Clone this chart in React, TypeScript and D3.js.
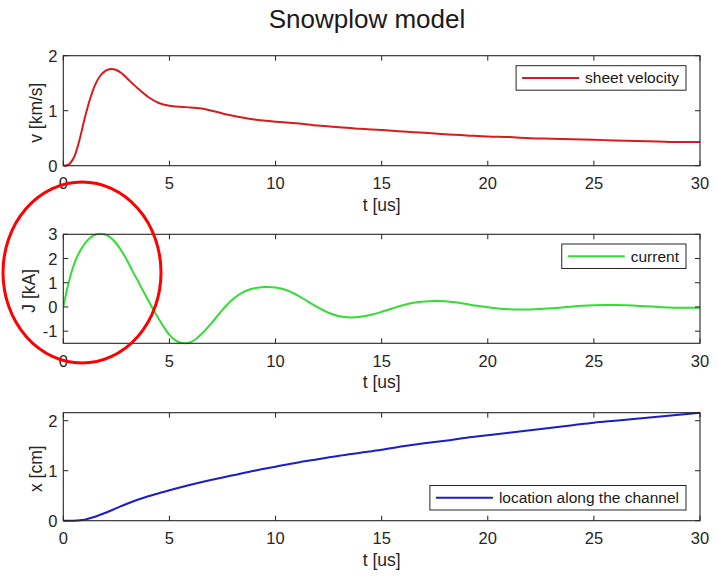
import React from "react";
import * as d3 from "d3";

const title = "Snowplow model";
const xLabel = "t [us]";
const xTicks = [0, 5, 10, 15, 20, 25, 30];

// sheet velocity [km/s]
const velT = [0, 0.25, 0.5, 0.75, 1.0, 1.25, 1.5, 1.75, 2.0, 2.25, 2.5, 2.75, 3.0, 3.5, 4.0, 4.5, 5.0, 5.5, 6.0, 6.5, 7.0, 7.5, 8.0, 8.5, 9.0, 10, 11, 12, 13, 14, 15, 16, 17, 18, 19, 20, 21, 22, 23, 24, 25, 26, 27, 28, 29, 30];
const velV = [0, 0.02, 0.15, 0.45, 0.85, 1.2, 1.47, 1.64, 1.73, 1.76, 1.74, 1.68, 1.59, 1.41, 1.25, 1.14, 1.09, 1.07, 1.06, 1.04, 1.0, 0.95, 0.91, 0.87, 0.84, 0.8, 0.77, 0.73, 0.7, 0.67, 0.65, 0.62, 0.6, 0.57, 0.55, 0.53, 0.52, 0.5, 0.49, 0.48, 0.47, 0.46, 0.45, 0.44, 0.43, 0.43];

// current [kA]
const curT = [0, 0.25, 0.5, 0.75, 1.0, 1.25, 1.5, 1.75, 2.0, 2.25, 2.5, 2.75, 3.0, 3.25, 3.5, 3.75, 4.0, 4.25, 4.5, 4.75, 5.0, 5.25, 5.5, 5.75, 6.0, 6.25, 6.5, 6.75, 7.0, 7.25, 7.5, 7.75, 8.0, 8.5, 9.0, 9.5, 10.0, 10.5, 11.0, 11.5, 12.0, 12.5, 13.0, 13.5, 14.0, 14.5, 15.0, 15.5, 16.0, 16.5, 17.0, 17.5, 18.0, 18.5, 19.0, 19.5, 20.0, 20.5, 21.0, 21.5, 22.0, 22.5, 23.0, 23.5, 24.0, 24.5, 25.0, 25.5, 26.0, 26.5, 27.0, 27.5, 28.0, 28.5, 29.0, 29.5, 30.0];
const curJ = [0, 1.0, 1.75, 2.25, 2.6, 2.85, 2.98, 3.02, 2.98, 2.85, 2.62, 2.3, 1.93, 1.5, 1.1, 0.68, 0.28, -0.12, -0.5, -0.85, -1.15, -1.36, -1.47, -1.5, -1.45, -1.32, -1.13, -0.9, -0.65, -0.38, -0.12, 0.12, 0.33, 0.62, 0.77, 0.82, 0.8, 0.7, 0.5, 0.24, -0.02, -0.24, -0.38, -0.43, -0.4, -0.32, -0.2, -0.06, 0.07, 0.17, 0.23, 0.25, 0.24, 0.19, 0.12, 0.05, -0.01, -0.06, -0.09, -0.1, -0.1, -0.08, -0.05, -0.02, 0.02, 0.05, 0.07, 0.08, 0.08, 0.07, 0.05, 0.03, 0.0, -0.02, -0.03, -0.03, -0.03];

// location along the channel [cm]
const posT = [0, 0.5, 1.0, 1.5, 2.0, 2.5, 3.0, 3.5, 4.0, 4.5, 5.0, 6, 7, 8, 9, 10, 11, 12, 13, 14, 15, 16, 17, 18, 19, 20, 21, 22, 23, 24, 25, 26, 27, 28, 29, 30];
const posX = [0, 0.0, 0.02, 0.08, 0.16, 0.25, 0.34, 0.42, 0.49, 0.55, 0.61, 0.72, 0.82, 0.91, 1.0, 1.08, 1.16, 1.23, 1.3, 1.36, 1.42, 1.49, 1.55, 1.6, 1.66, 1.71, 1.76, 1.81, 1.86, 1.91, 1.96, 2.0, 2.04, 2.08, 2.12, 2.16];

const yLabels = ["v [km/s]", "J [kA]", "x [cm]"];
const legendLabels = ["sheet velocity", "current", "location along the channel"];
const yTicksList = [[0, 1, 2], [-1, 0, 1, 2, 3], [0, 1, 2]];
const yDomains: [number, number][] = [[0, 2], [-1.5, 3], [0, 2.16]];

const FONT = "'Liberation Sans', Arial, Helvetica, sans-serif";
const AX = "#262626";

function measure(text: string, size: number): number {
  try {
    const c = document.createElement("canvas").getContext("2d");
    if (c) {
      c.font = `${size}px ${FONT}`;
      return c.measureText(text).width;
    }
  } catch (e) {}
  return text.length * size * 0.5;
}

type PanelProps = {
  top: number;
  bottom: number;
  t: number[];
  v: number[];
  domain: [number, number];
  ticks: number[];
  ylabel: string;
  ylabelX: number;
  legend: string;
  legendTop: number;
  color: string;
};

const X0 = 63.3;
const X1 = 700;

function Panel(p: PanelProps) {
  const x = d3.scaleLinear().domain([0, 30]).range([X0, X1]);
  const y = d3.scaleLinear().domain(p.domain).range([p.bottom, p.top]);
  const data = p.t.map((tt, i) => [tt, p.v[i]] as [number, number]);
  const line = d3
    .line<[number, number]>()
    .x((d) => x(d[0]))
    .y((d) => y(d[1]))
    .curve(d3.curveCatmullRom.alpha(0.5));
  const tl = 5;
  const fs = 16.5;
  const lfs = 17.5;
  const gfs = 15.5;
  const tw = measure(p.legend, gfs);
  const boxR = 686;
  const boxW = 6 + 57 + 6 + tw + 7;
  const boxL = boxR - boxW;
  const boxH = 24.5;
  return (
    <g>
      <rect x={X0} y={p.top} width={X1 - X0} height={p.bottom - p.top} fill="#fff" />
      <defs>
        <clipPath id={`clip${p.top}`}>
          <rect x={X0} y={p.top - 2} width={X1 - X0} height={p.bottom - p.top + 4} />
        </clipPath>
      </defs>
      <path d={line(data) || ""} fill="none" stroke={p.color} strokeWidth={2} clipPath={`url(#clip${p.top})`} />
      <rect x={X0} y={p.top} width={X1 - X0} height={p.bottom - p.top} fill="none" stroke={AX} strokeWidth={1.1} />
      {xTicks.map((tk) => (
        <g key={tk}>
          <line x1={x(tk)} x2={x(tk)} y1={p.bottom} y2={p.bottom - tl} stroke={AX} />
          <line x1={x(tk)} x2={x(tk)} y1={p.top} y2={p.top + tl} stroke={AX} />
          <text x={x(tk)} y={p.bottom + 17.5} textAnchor="middle" dominantBaseline="central" fontSize={fs} fill={AX} fontFamily={FONT}>
            {tk}
          </text>
        </g>
      ))}
      {p.ticks.map((tk) => (
        <g key={tk}>
          <line x1={X0} x2={X0 + tl} y1={y(tk)} y2={y(tk)} stroke={AX} />
          <line x1={X1} x2={X1 - tl} y1={y(tk)} y2={y(tk)} stroke={AX} />
          <text x={57.5} y={y(tk)} textAnchor="end" dominantBaseline="central" fontSize={fs} fill={AX} fontFamily={FONT}>
            {tk}
          </text>
        </g>
      ))}
      <text x={(X0 + X1) / 2} y={p.bottom + 39} textAnchor="middle" dominantBaseline="central" fontSize={lfs} fill={AX} fontFamily={FONT}>
        {xLabel}
      </text>
      <text
        transform={`translate(${p.ylabelX},${(p.top + p.bottom) / 2 + 2}) rotate(-90)`}
        textAnchor="middle"
        dominantBaseline="central"
        fontSize={lfs}
        fill={AX}
        fontFamily={FONT}
      >
        {p.ylabel}
      </text>
      <rect x={boxL} y={p.legendTop} width={boxW} height={boxH} fill="#fff" stroke={AX} strokeWidth={1} />
      <line x1={boxL + 6} x2={boxL + 63} y1={p.legendTop + boxH / 2} y2={p.legendTop + boxH / 2} stroke={p.color} strokeWidth={2} />
      <text x={boxL + 69} y={p.legendTop + boxH / 2} dominantBaseline="central" fontSize={gfs} fill="#1a1a1a" fontFamily={FONT}>
        {p.legend}
      </text>
    </g>
  );
}

export default function App() {
  return (
    <svg width={718} height={577} style={{ position: "absolute", left: 0, top: 0, background: "#fff" }}>
      <rect width={718} height={577} fill="#fff" />
      <text x={367} y={19} textAnchor="middle" dominantBaseline="central" fontSize={26} fill="#1a1a1a" fontFamily={FONT}>
        {title}
      </text>
      <Panel top={55.7} bottom={165.7} t={velT} v={velV} domain={yDomains[0]} ticks={yTicksList[0]} ylabel={yLabels[0]} ylabelX={36} legend={legendLabels[0]} legendTop={65.7} color="#d81c1c" />
      <Panel top={234.3} bottom={343.3} t={curT} v={curJ} domain={yDomains[1]} ticks={yTicksList[1]} ylabel={yLabels[1]} ylabelX={29} legend={legendLabels[1]} legendTop={244} color="#33dd33" />
      <Panel top={412.7} bottom={520.7} t={posT} v={posX} domain={yDomains[2]} ticks={yTicksList[2]} ylabel={yLabels[2]} ylabelX={36} legend={legendLabels[2]} legendTop={485.5} color="#1c1cc8" />
      <ellipse cx={82} cy={272.5} rx={79} ry={90.5} fill="none" stroke="#ff0000" strokeWidth={3} />
    </svg>
  );
}
